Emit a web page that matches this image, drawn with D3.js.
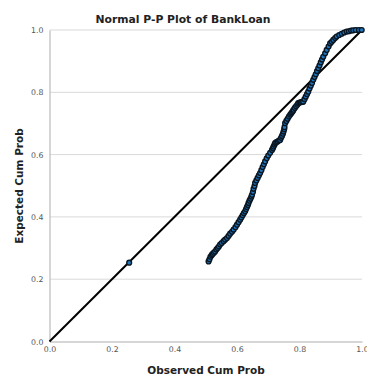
<!DOCTYPE html>
<html>
<head>
<meta charset="utf-8">
<script src="https://cdn.jsdelivr.net/npm/d3@7"></script>
<style>
  html, body { margin: 0; padding: 0; background: #fff; }
  svg { display: block; }
</style>
</head>
<body>
<svg id="chart" width="367" height="376"></svg>
<script>
// ---- data ----
const chartTitle = "Normal P-P Plot of BankLoan";
const xTitle = "Observed Cum Prob";
const yTitle = "Expected Cum Prob";
const tickValues = [0, 0.2, 0.4, 0.6, 0.8, 1.0];
const tickLabels = ["0.0", "0.2", "0.4", "0.6", "0.8", "1.0"];
const observed = [0.255,
  0.509, 0.512, 0.515, 0.519, 0.522, 0.526, 0.530, 0.534, 0.538, 0.542, 0.546, 0.551,
  0.557, 0.562, 0.568, 0.573, 0.578, 0.584, 0.589, 0.595, 0.600, 0.605, 0.610, 0.614,
  0.618, 0.622, 0.626, 0.629, 0.632, 0.635, 0.637, 0.640, 0.643, 0.646, 0.648, 0.651,
  0.653, 0.656, 0.658, 0.662, 0.666, 0.670, 0.674, 0.678, 0.682, 0.686, 0.690, 0.695,
  0.700, 0.706, 0.712, 0.715, 0.717, 0.720, 0.722, 0.726, 0.730, 0.734, 0.738, 0.741,
  0.744, 0.747, 0.749, 0.751, 0.752, 0.754, 0.758, 0.762, 0.766, 0.770, 0.773, 0.776,
  0.779, 0.781, 0.785, 0.789, 0.793, 0.796, 0.800, 0.804, 0.808, 0.812, 0.816, 0.820,
  0.824, 0.828, 0.832, 0.836, 0.840, 0.844, 0.848, 0.852, 0.856, 0.860, 0.864, 0.868,
  0.872, 0.876, 0.882, 0.887, 0.893, 0.898, 0.903, 0.908, 0.914, 0.919, 0.927, 0.935,
  0.943, 0.951, 0.958, 0.965, 0.972, 0.980, 0.990, 0.999];
const expected = [0.253,
  0.257, 0.264, 0.272, 0.277, 0.281, 0.285, 0.289, 0.295, 0.300, 0.305, 0.311, 0.316,
  0.322, 0.327, 0.332, 0.339, 0.346, 0.352, 0.359, 0.367, 0.375, 0.383, 0.391, 0.398,
  0.405, 0.412, 0.418, 0.425, 0.432, 0.438, 0.445, 0.452, 0.458, 0.465, 0.471, 0.480,
  0.490, 0.499, 0.509, 0.517, 0.525, 0.533, 0.541, 0.550, 0.560, 0.569, 0.578, 0.588,
  0.597, 0.606, 0.615, 0.620, 0.626, 0.632, 0.637, 0.640, 0.642, 0.645, 0.647, 0.654,
  0.660, 0.667, 0.674, 0.681, 0.688, 0.701, 0.708, 0.715, 0.722, 0.728, 0.732, 0.736,
  0.740, 0.744, 0.750, 0.755, 0.760, 0.765, 0.767, 0.768, 0.769, 0.770, 0.778, 0.786,
  0.794, 0.802, 0.812, 0.821, 0.830, 0.840, 0.849, 0.858, 0.868, 0.877, 0.886, 0.896,
  0.905, 0.914, 0.925, 0.936, 0.947, 0.957, 0.962, 0.968, 0.974, 0.979, 0.984, 0.988,
  0.992, 0.995, 0.996, 0.998, 0.999, 1.000, 1.000, 1.000];

// ---- layout ----
const svg = d3.select("#chart");
const x = d3.scaleLinear().domain([0, 1]).range([49.5, 362]);
const y = d3.scaleLinear().domain([0, 1]).range([341.5, 30]);

// gridlines
svg.append("g")
  .selectAll("line")
  .data(tickValues.slice(1))
  .join("line")
  .attr("x1", x(0)).attr("x2", x(1))
  .attr("y1", d => y(d)).attr("y2", d => y(d))
  .attr("stroke", "#d9d9d9").attr("stroke-width", 1);

// axes
const xAxis = d3.axisBottom(x).tickValues(tickValues)
  .tickFormat((d, i) => tickLabels[i]).tickSize(0).tickPadding(5);
const yAxis = d3.axisLeft(y).tickValues(tickValues)
  .tickFormat((d, i) => tickLabels[i]).tickSize(0).tickPadding(6);

const gx = svg.append("g").attr("transform", `translate(0,${y(0)})`).call(xAxis);
const gy = svg.append("g").attr("transform", `translate(${x(0)},0)`).call(yAxis);
[gx, gy].forEach(g => {
  g.select(".domain").attr("stroke", "#c8c8c8").attr("stroke-width", 1.5);
  g.selectAll("text").attr("fill", "#555").style("font-family", "DejaVu Sans")
    .style("font-size", "7.8px");
});
gy.selectAll(".tick text").attr("dy", "0.32em");

// diagonal reference line
svg.append("line")
  .attr("x1", x(0)).attr("y1", y(0)).attr("x2", x(1)).attr("y2", y(1))
  .attr("stroke", "#000").attr("stroke-width", 2);

// points
const pts = observed.map((o, i) => ({ o, e: expected[i] }));
svg.append("g")
  .selectAll("circle")
  .data(pts)
  .join("circle")
  .attr("cx", d => x(d.o)).attr("cy", d => y(d.e))
  .attr("r", 2.4)
  .attr("fill", "#1f78c0")
  .attr("stroke", "#0a1622")
  .attr("stroke-width", 1.4);

// titles
svg.append("text")
  .attr("x", 183).attr("y", 23)
  .attr("text-anchor", "middle")
  .style("font-family", "DejaVu Sans").style("font-weight", "bold")
  .style("font-size", "10.8px").attr("fill", "#222")
  .text(chartTitle);

svg.append("text")
  .attr("x", 206).attr("y", 374)
  .attr("text-anchor", "middle")
  .style("font-family", "DejaVu Sans").style("font-weight", "bold")
  .style("font-size", "10.5px").attr("fill", "#222")
  .text(xTitle);

svg.append("text")
  .attr("transform", "translate(23,186) rotate(-90)")
  .attr("text-anchor", "middle")
  .style("font-family", "DejaVu Sans").style("font-weight", "bold")
  .style("font-size", "10.5px").attr("fill", "#222")
  .text(yTitle);
</script>
</body>
</html>
